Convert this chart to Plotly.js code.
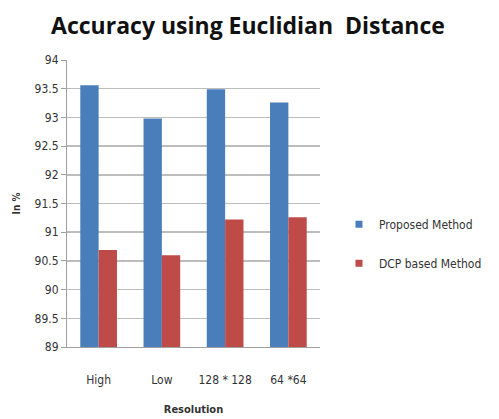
<!DOCTYPE html>
<html>
<head>
<meta charset="utf-8">
<script src="https://cdn.plot.ly/plotly-3.0.1.min.js"></script>
<style>html,body{margin:0;padding:0;background:#fff;}#chart{width:499px;height:419px;}</style>
</head>
<body>
<div id="chart"></div>
<script>
const categories = ["High", "Low", "128 * 128", "64 *64"];
const proposed = [93.56, 92.98, 93.49, 93.26];
const dcp = [90.69, 90.60, 91.22, 91.26];
const yTicks = [89, 89.5, 90, 90.5, 91, 91.5, 92, 92.5, 93, 93.5, 94];
const seriesNames = ["Proposed Method", "DCP based Method"];
const seriesColors = ["#4a7ebb", "#be4b48"];

const narrow = "'DejaVu Sans Condensed', 'Liberation Sans Narrow', sans-serif";

const traces = [
  {type: "bar", name: seriesNames[0], x: categories, y: proposed, marker: {color: seriesColors[0]}, showlegend: false},
  {type: "bar", name: seriesNames[1], x: categories, y: dcp, marker: {color: seriesColors[1]}, showlegend: false},
  {type: "scatter", mode: "markers", name: seriesNames[0], x: [categories[0]], y: [null], legendgroup: "a",
   marker: {symbol: "square", size: 7, color: seriesColors[0]}, hoverinfo: "skip"},
  {type: "scatter", mode: "markers", name: seriesNames[1], x: [categories[0]], y: [null], legendgroup: "b",
   marker: {symbol: "square", size: 7, color: seriesColors[1]}, hoverinfo: "skip"}
];

const layout = {
  width: 499, height: 419,
  margin: {l: 67, r: 150, t: 60, b: 72},
  paper_bgcolor: "#fff", plot_bgcolor: "#fff",
  barmode: "group", bargap: 0.42, bargroupgap: 0,
  title: {text: "<b>Accuracy using Euclidian  Distance</b>", x: 0.497, xanchor: "center", y: 0.937, yanchor: "middle",
          font: {family: "'Open Sans', sans-serif", size: 23, color: "#111"}},
  xaxis: {type: "category", showline: true, linecolor: "#a0a0a0", linewidth: 1, ticks: "", showgrid: false,
          tickfont: {family: narrow, size: 12, color: "#333"}, ticklabelstandoff: 22,
          title: {text: "<b>Resolution</b>", font: {family: narrow, size: 11, color: "#333"}, standoff: 18}},
  yaxis: {range: [89, 94], tickvals: yTicks, ticktext: yTicks.map(String), showline: true, linecolor: "#a0a0a0",
          ticks: "outside", ticklen: 5, tickcolor: "#a0a0a0", showgrid: true, gridcolor: "#bdbdbd", gridwidth: 1.5,
          zeroline: false, tickfont: {family: narrow, size: 12, color: "#333"},
          title: {text: "<b>In %</b>", font: {family: narrow, size: 10, color: "#333"}, standoff: 12}},
  showlegend: true,
  legend: {x: 1.075, xanchor: "left", y: 0.36, yanchor: "middle", traceorder: "grouped", tracegroupgap: 20,
           font: {family: narrow, size: 12, color: "#333"}, itemwidth: 30, bgcolor: "rgba(0,0,0,0)"}
};

Plotly.newPlot("chart", traces, layout, {displayModeBar: false, staticPlot: true});
</script>
</body>
</html>
